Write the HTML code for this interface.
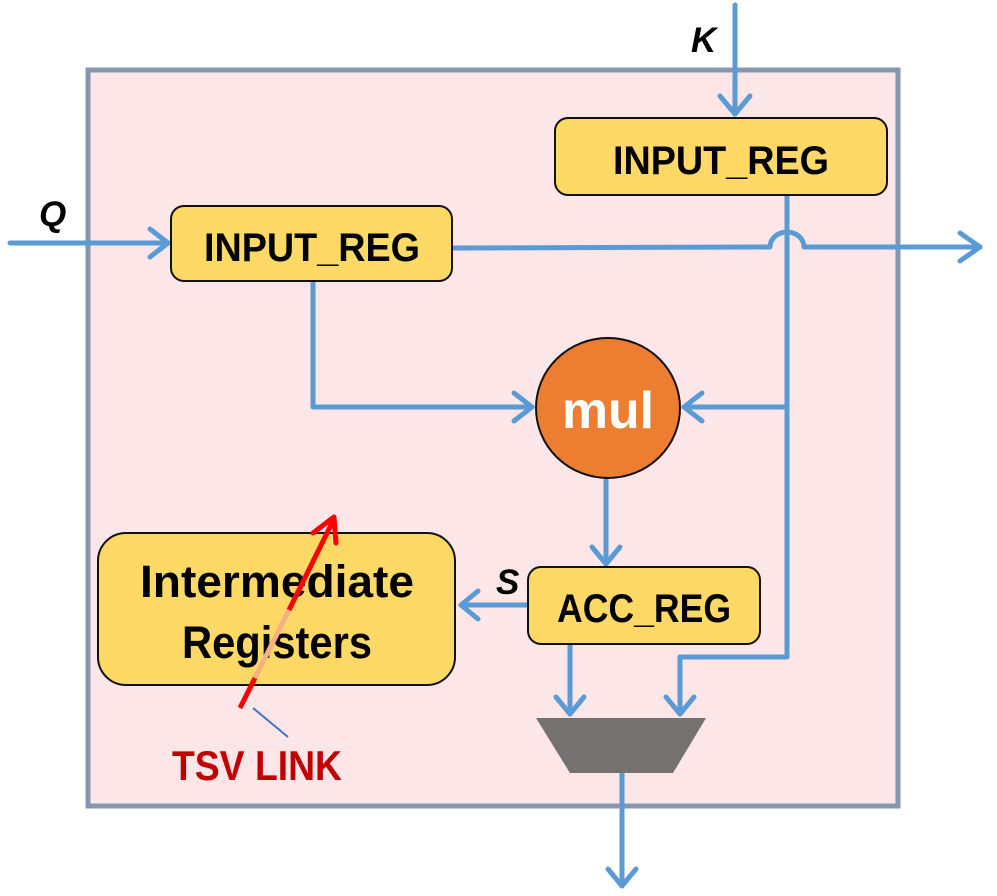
<!DOCTYPE html>
<html><head><meta charset="utf-8"><style>
html,body{margin:0;padding:0;background:#fff;}
svg{display:block;}
text{font-family:"Liberation Sans",sans-serif;font-weight:bold;}
</style></head><body>
<svg width="997" height="896" viewBox="0 0 997 896" xmlns="http://www.w3.org/2000/svg">
<rect x="88" y="70" width="810" height="736" fill="#fde6e7" stroke="#8497b0" stroke-width="5"/>
<g stroke="#5b9bd5" stroke-width="5" fill="none" stroke-linecap="round" stroke-linejoin="round">
 <line x1="735" y1="5" x2="735" y2="114"/>
 <polyline points="720,96 735,114 750,96"/>
 <line x1="10" y1="243" x2="168" y2="243"/>
 <polyline points="150,229 168,243 150,257"/>
 <path d="M452,248 L770,247 A17,15 0 0 1 804,247 L980,247"/>
 <polyline points="960,233 980,247 960,261"/>
 <path d="M787,195 L787,657 L680,657 L680,714"/>
 <polyline points="666,697 680,714 694,697"/>
 <line x1="787" y1="407" x2="684" y2="407"/>
 <polyline points="702,393 684,407 702,421"/>
 <path d="M313,281 L313,407 L532,407"/>
 <polyline points="514,393 532,407 514,421"/>
 <line x1="606" y1="478" x2="606" y2="564"/>
 <polyline points="592,547 606,564 620,547"/>
 <line x1="528" y1="605" x2="461" y2="605"/>
 <polyline points="478,591 461,605 478,619"/>
 <line x1="570" y1="643" x2="570" y2="714"/>
 <polyline points="556,697 570,714 584,697"/>
 <line x1="622" y1="773" x2="622" y2="886"/>
 <polyline points="608,869 622,886 636,869"/>
</g>
<rect x="555" y="118" width="332" height="77" rx="13" fill="#ffd966" stroke="#111" stroke-width="2"/>
<text x="721" y="174" font-size="40" text-anchor="middle" textLength="216" lengthAdjust="spacingAndGlyphs">INPUT_REG</text>
<rect x="171" y="206" width="281" height="75" rx="13" fill="#ffd966" stroke="#111" stroke-width="2"/>
<text x="312" y="261" font-size="40" text-anchor="middle" textLength="216" lengthAdjust="spacingAndGlyphs">INPUT_REG</text>
<ellipse cx="608" cy="408" rx="72" ry="70" fill="#ed7d31" stroke="#111" stroke-width="2"/>
<text x="608" y="428" font-size="52" fill="#fff" text-anchor="middle" textLength="92" lengthAdjust="spacingAndGlyphs">mul</text>
<rect x="528" y="567" width="232" height="77" rx="13" fill="#ffd966" stroke="#111" stroke-width="2"/>
<text x="644" y="622" font-size="40" text-anchor="middle" textLength="174" lengthAdjust="spacingAndGlyphs">ACC_REG</text>
<rect x="98" y="533" width="357" height="152" rx="28" fill="#ffd966" stroke="#111" stroke-width="2"/>
<text x="277" y="597" font-size="45" text-anchor="middle" textLength="274" lengthAdjust="spacingAndGlyphs">Intermediate</text>
<text x="277" y="658" font-size="45" text-anchor="middle" textLength="190" lengthAdjust="spacingAndGlyphs">Registers</text>
<polygon points="536,718 706,718 673,773 570,773" fill="#767171"/>
<text x="39" y="226" font-size="35" font-style="italic">Q</text>
<text x="691" y="52" font-size="35" font-style="italic">K</text>
<text x="496" y="594" font-size="35" font-style="italic">S</text>
<line x1="240" y1="708" x2="255" y2="678" stroke="#ff0000" stroke-width="5"/>
<line x1="255" y1="678" x2="289" y2="610" stroke="#f4b183" stroke-width="5"/>
<line x1="289" y1="610" x2="334" y2="519" stroke="#ff0000" stroke-width="5"/>
<polyline points="313,533 334,517 336,543" fill="none" stroke="#ff0000" stroke-width="5" stroke-linecap="round" stroke-linejoin="round"/>
<line x1="253" y1="708" x2="288" y2="737" stroke="#4472c4" stroke-width="2"/>
<text x="172" y="780" font-size="42" fill="#c00000" textLength="170" lengthAdjust="spacingAndGlyphs">TSV LINK</text>
</svg>
</body></html>
